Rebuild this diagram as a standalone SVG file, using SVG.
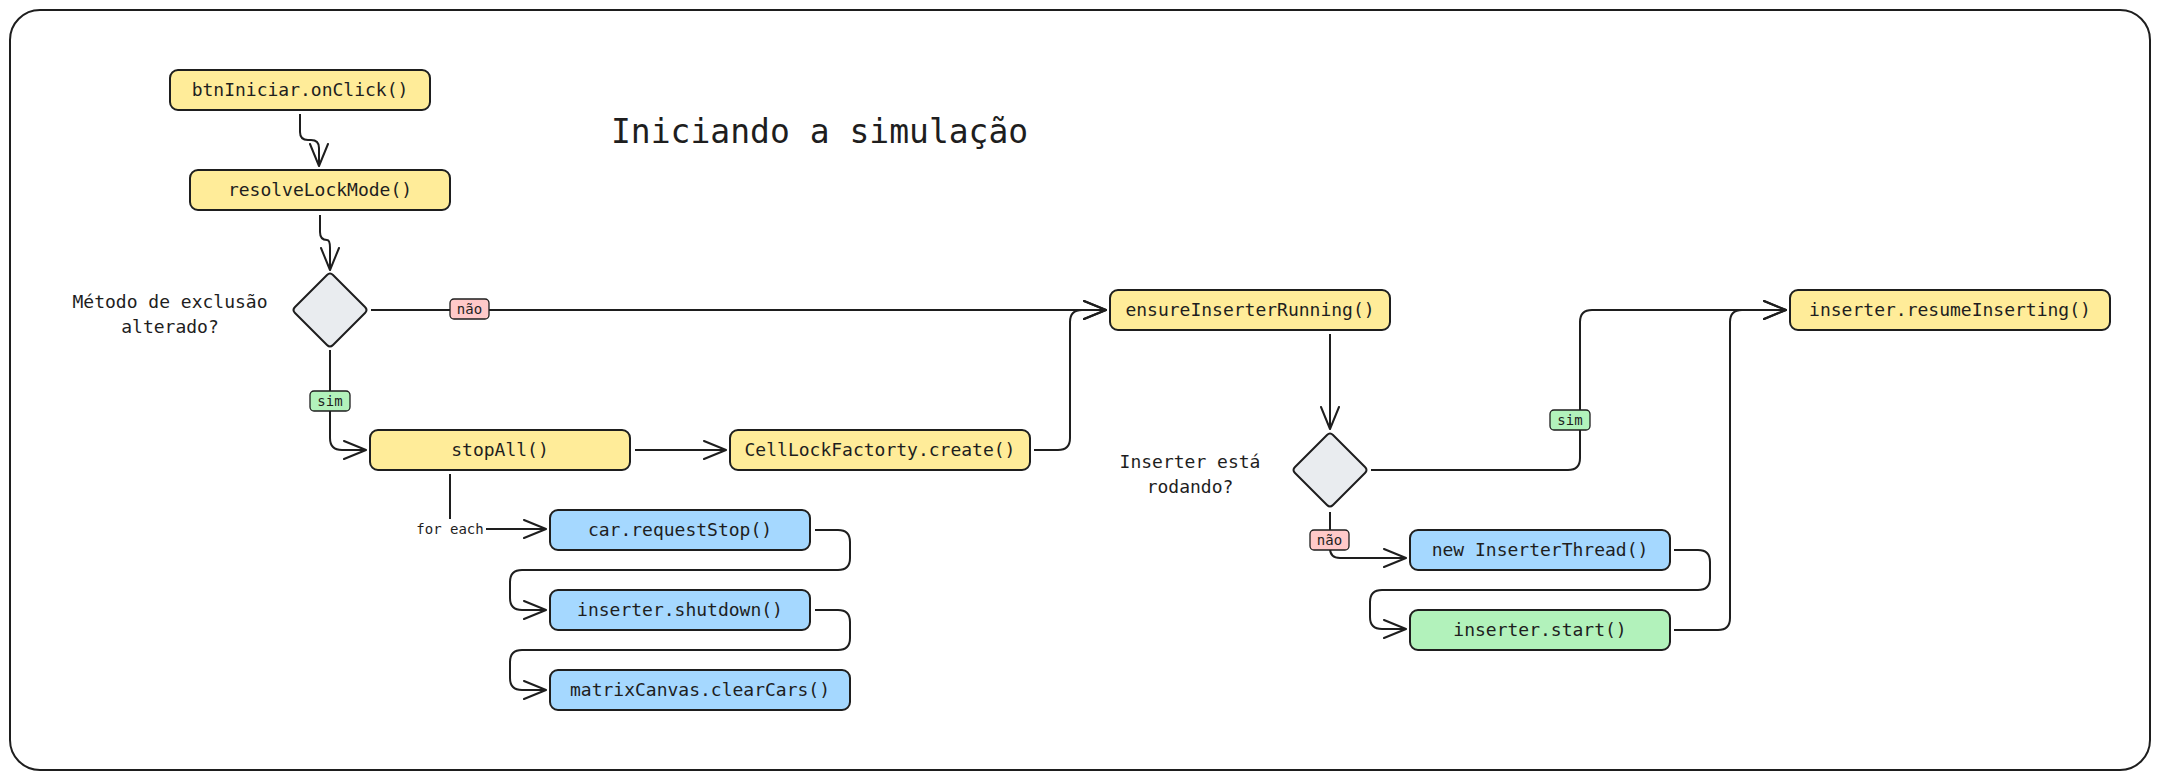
<svg xmlns="http://www.w3.org/2000/svg" width="2160" height="780" viewBox="0 0 2160 780">
<style>
.frame{fill:#ffffff;stroke:#1e1e1e;stroke-width:2}
.node rect{stroke:#1e1e1e;stroke-width:2}
.y{fill:#ffec99}.b{fill:#a5d8ff}.g{fill:#b2f2bb}.p{fill:#ffc9c9}
.dia{fill:#e9ecef;stroke:#1e1e1e;stroke-width:2;stroke-linejoin:round}
.t{font-family:"DejaVu Sans Mono","Liberation Mono",monospace;font-size:18px;fill:#1e1e1e;text-anchor:middle}
.lt{font-family:"DejaVu Sans Mono","Liberation Mono",monospace;font-size:14px;fill:#1e1e1e;text-anchor:middle}
.e{fill:none;stroke:#1e1e1e;stroke-width:2}
.pill{stroke:#1e1e1e;stroke-width:1.3}
</style>
<defs>
<marker id="ah" viewBox="0 0 24 20" refX="23" refY="10" markerWidth="24" markerHeight="20" markerUnits="userSpaceOnUse" orient="auto">
<path d="M1,1 L23,10 L1,19" fill="none" stroke="#1e1e1e" stroke-width="2" stroke-linecap="round" stroke-linejoin="round"/>
</marker>
</defs>
<rect class="frame" x="10" y="10" width="2140" height="760" rx="30"/>
<text id="title" x="611" y="143" font-family="'DejaVu Sans Mono','Liberation Mono',monospace" font-size="33" fill="#1e1e1e">Iniciando a simulação</text>

<g id="connectors">
<path class="e" marker-end="url(#ah)" d="M300,114 L300,132 Q300,140 308,140 L311,140 Q319,140 319,148 L319,166"/>
<path class="e" marker-end="url(#ah)" d="M320,215 L320,232 Q320,240 327,240 Q330,240 330,248 L330,270"/>
<path class="e" marker-end="url(#ah)" d="M371,310 L1106,310"/>
<path class="e" marker-end="url(#ah)" d="M330,350 L330,438 Q330,450 342,450 L366,450"/>
<path class="e" marker-end="url(#ah)" d="M635,450 L726,450"/>
<path class="e" marker-end="url(#ah)" d="M1034,450 L1058,450 Q1070,450 1070,438 L1070,322 Q1070,310 1082,310 L1106,310"/>
<path class="e" marker-end="url(#ah)" d="M450,474 L450,529 L546,529"/>
<path class="e" marker-end="url(#ah)" d="M815,530 L838,530 Q850,530 850,542 L850,558 Q850,570 838,570 L522,570 Q510,570 510,582 L510,598 Q510,610 522,610 L546,610"/>
<path class="e" marker-end="url(#ah)" d="M815,610 L838,610 Q850,610 850,622 L850,638 Q850,650 838,650 L522,650 Q510,650 510,662 L510,678 Q510,690 522,690 L546,690"/>
<path class="e" marker-end="url(#ah)" d="M1330,334 L1330,429"/>
<path class="e" marker-end="url(#ah)" d="M1371,470 L1568,470 Q1580,470 1580,458 L1580,322 Q1580,310 1592,310 L1786,310"/>
<path class="e" marker-end="url(#ah)" d="M1330,512 L1330,548 Q1330,558 1340,558 L1406,558"/>
<path class="e" marker-end="url(#ah)" d="M1674,550 L1698,550 Q1710,550 1710,562 L1710,578 Q1710,590 1698,590 L1382,590 Q1370,590 1370,602 L1370,617 Q1370,629 1382,629 L1406,629"/>
<path class="e" marker-end="url(#ah)" d="M1674,630 L1718,630 Q1730,630 1730,618 L1730,322 Q1730,310 1742,310 L1786,310"/>
<rect class="pill p" x="450" y="299" width="39" height="20" rx="4"/>
<text class="lt" x="469.5" y="314">não</text>
<rect class="pill g" x="310" y="391" width="40" height="20" rx="4"/>
<text class="lt" x="330" y="406">sim</text>
<rect x="414" y="519" width="72" height="20" fill="#ffffff"/>
<text class="lt" x="450" y="534">for each</text>
<rect class="pill g" x="1550" y="410" width="40" height="20" rx="4"/>
<text class="lt" x="1570" y="425">sim</text>
<rect class="pill p" x="1310" y="530" width="39" height="20" rx="4"/>
<text class="lt" x="1329.5" y="545">não</text>
</g>

<g id="n_btn" class="node"><rect class="y" x="170" y="70" width="260" height="40" rx="8"/><text class="t" x="300" y="96">btnIniciar.onClick()</text></g>
<g id="n_resolve" class="node"><rect class="y" x="190" y="170" width="260" height="40" rx="8"/><text class="t" x="320" y="196">resolveLockMode()</text></g>
<g id="n_dec1"><path class="dia" d="M333,275 L365,307 Q368,310 365,313 L333,345 Q330,348 327,345 L295,313 Q292,310 295,307 L327,275 Q330,272 333,275 Z"/>
<text class="t" x="170" y="308">Método de exclusão</text><text class="t" x="170" y="333">alterado?</text></g>
<g id="n_stopall" class="node"><rect class="y" x="370" y="430" width="260" height="40" rx="8"/><text class="t" x="500" y="456">stopAll()</text></g>
<g id="n_celllock" class="node"><rect class="y" x="730" y="430" width="300" height="40" rx="8"/><text class="t" x="880" y="456">CellLockFactorty.create()</text></g>
<g id="n_car" class="node"><rect class="b" x="550" y="510" width="260" height="40" rx="8"/><text class="t" x="680" y="536">car.requestStop()</text></g>
<g id="n_shutdown" class="node"><rect class="b" x="550" y="590" width="260" height="40" rx="8"/><text class="t" x="680" y="616">inserter.shutdown()</text></g>
<g id="n_clear" class="node"><rect class="b" x="550" y="670" width="300" height="40" rx="8"/><text class="t" x="700" y="696">matrixCanvas.clearCars()</text></g>
<g id="n_ensure" class="node"><rect class="y" x="1110" y="290" width="280" height="40" rx="8"/><text class="t" x="1250" y="316">ensureInserterRunning()</text></g>
<g id="n_dec2"><path class="dia" d="M1333,435 L1365,467 Q1368,470 1365,473 L1333,505 Q1330,508 1327,505 L1295,473 Q1292,470 1295,467 L1327,435 Q1330,432 1333,435 Z"/>
<text class="t" x="1190" y="468">Inserter está</text><text class="t" x="1190" y="493">rodando?</text></g>
<g id="n_newthread" class="node"><rect class="b" x="1410" y="530" width="260" height="40" rx="8"/><text class="t" x="1540" y="556">new InserterThread()</text></g>
<g id="n_start" class="node"><rect class="g" x="1410" y="610" width="260" height="40" rx="8"/><text class="t" x="1540" y="636">inserter.start()</text></g>
<g id="n_resume" class="node"><rect class="y" x="1790" y="290" width="320" height="40" rx="8"/><text class="t" x="1950" y="316">inserter.resumeInserting()</text></g>
</svg>
